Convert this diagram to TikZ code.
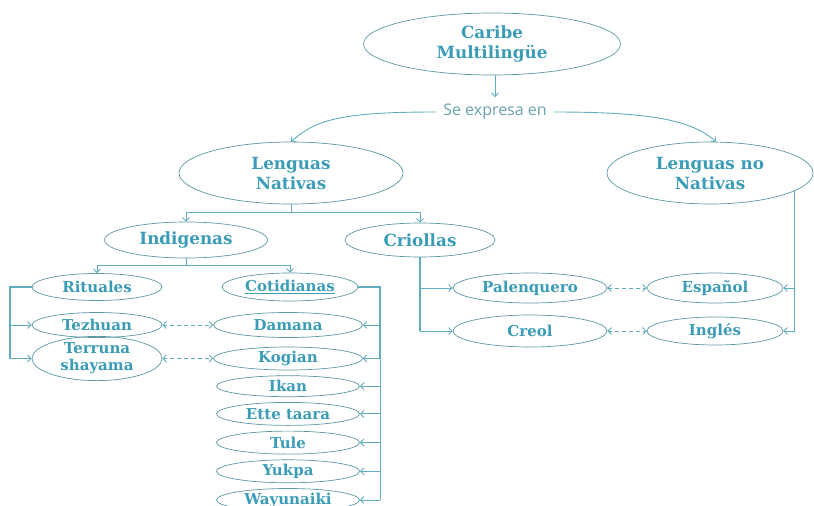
\documentclass[tikz,border=0pt]{standalone}
\usepackage{fontspec}
\setmainfont{DejaVu Serif}
\newfontfamily\linkfont{Open Sans}
\usetikzlibrary{positioning, arrows.meta, shapes.geometric}
\definecolor{textteal}{HTML}{3A9CB6}
\definecolor{lineteal}{HTML}{5FADBE}
\definecolor{ovalteal}{HTML}{5A97A5}
\definecolor{wordteal}{HTML}{6AA3AF}
\newcommand{\ovalfont}{\bfseries\fontsize{15}{17}\selectfont}
\newcommand{\bigovalfont}{\bfseries\fontsize{16.8}{20}\selectfont}

\begin{document}
\begin{tikzpicture}[align=center, x=1pt, y=-1pt, node distance=5pt]
       \ovalfont
       \tikzstyle{oval} = [
            ellipse,
            draw=ovalteal,
            line width=0.7pt,
            text=textteal,
            inner sep=0pt,
            minimum width=143pt,
            minimum height=23pt,
            font=\ovalfont
       ]
       \tikzstyle{bigoval} = [
            oval,
            minimum width=224pt,
            minimum height=62pt,
            font=\bigovalfont
       ]
       \tikzstyle{midoval} = [
            oval,
            minimum width=160pt,
            minimum height=36pt,
            font=\bigovalfont
       ]
       \tikzstyle{link} = [draw=lineteal, line width=0.9pt]
       \tikzstyle{bracket} = [draw=lineteal, line width=1.5pt]
       \tikzstyle{arrow} = [link, -{Straight Barb[length=3.5pt, width=7pt]}]
       \tikzstyle{dasharrow} = [link, dash pattern=on 4pt off 3pt, {Straight Barb[length=3.5pt, width=7pt]}-{Straight Barb[length=3.5pt, width=7pt]}]
       \useasboundingbox (0,0) rectangle (814,506);

       \node (caribe) at (492,44) [bigoval, minimum width=257pt] {Caribe\\Multilingüe};
       \node (expresa) at (495,112) [inner sep=7pt, text=wordteal, font=\linkfont\mdseries\fontsize{16}{18}\selectfont] {Se expresa en};
       \node (nativas) at (291,173) [bigoval] {Lenguas\\Nativas};
       \node (nonativas) at (710,173) [bigoval, minimum width=206pt] {Lenguas no\\Nativas};

       \node (indigenas) at (186,240) [midoval, minimum width=163pt] {Indigenas};
       \node (criollas) at (420,240) [midoval, minimum width=150pt, minimum height=34pt] {Criollas};

       \node (rituales) at (97,287) [oval, minimum width=130pt, minimum height=27pt] {Rituales};
       \node (tezhuan) at (97,325) [oval, minimum width=130pt, minimum height=25pt] {Tezhuan};
       \node (terruna) at (97,358.5) [oval, minimum width=130pt, minimum height=38pt] {Terruna\\shayama};

       \node (cotidianas) at (290,287) [oval, minimum width=136pt, minimum height=28pt] {\underline{Cotidianas}};
       \node (damana) at (288,325) [oval, minimum width=149pt, minimum height=25pt] {Damana};
       \node (kogian) at (288,358.5) [oval, minimum width=149pt] {Kogian};
       \node (ikan) [oval, below=5pt of kogian, minimum height=21pt] {Ikan};
       \node (ette) [oval, below=of ikan] {Ette taara};
       \node (tule) [oval, below=of ette] {Tule};
       \node (yukpa) [oval, below=of tule] {Yukpa};
       \node (wayunaiki) [oval, below=of yukpa] {Wayunaiki};

       \node (palenquero) at (530,288) [oval, minimum width=154pt, minimum height=30pt] {Palenquero};
       \node (espanol) at (715,288) [oval, minimum width=136pt, minimum height=30pt] {Español};
       \node (creol) at (530,331) [oval, minimum width=154pt, minimum height=32pt] {Creol};
       \node (ingles) at (715,331) [oval, minimum width=136pt, minimum height=28pt] {Inglés};

       \coordinate (nsplit) at (291,212);
       \coordinate (isplit) at (186,265);
       \coordinate (ritx) at (10,0);
       \coordinate (cotx) at (380,0);

       % top of the map
       \draw[arrow] (caribe.south -| expresa) -- (expresa.north);
       \draw[arrow] (expresa.west) .. controls +(-95,0) and +(25,-22) .. (nativas.north);
       \draw[arrow] (expresa.east) .. controls +(95,0) and +(-25,-22) .. ([xshift=6pt]nonativas.north);

       % native languages
       \draw[link] (nativas.south) -- (nsplit);
       \draw[arrow] (nsplit) -| (indigenas.north);
       \draw[arrow] (nsplit) -| (criollas.north);
       \draw[link] (indigenas.south) -- (isplit);
       \draw[arrow] (isplit) -| (rituales.north);
       \draw[arrow] (isplit) -| (cotidianas.north);

       \draw[bracket] (rituales.west) -- (rituales.west -| ritx) -- (terruna.west -| ritx);
       \draw[arrow] (tezhuan.west -| ritx) -- (tezhuan.west);
       \draw[arrow] (terruna.west -| ritx) -- (terruna.west);

       \draw[bracket] (cotidianas.east) -- (cotidianas.east -| cotx) -- (kogian.east -| cotx);
       \draw[link] (kogian.east -| cotx) -- (wayunaiki.east -| cotx);
       \draw[arrow] (damana.east -| cotx) -- (damana.east);
       \draw[arrow] (kogian.east -| cotx) -- (kogian.east);
       \draw[arrow] (ikan.east -| cotx) -- (ikan.east);
       \draw[arrow] (ette.east -| cotx) -- (ette.east);
       \draw[arrow] (tule.east -| cotx) -- (tule.east);
       \draw[arrow] (yukpa.east -| cotx) -- (yukpa.east);
       \draw[arrow] (wayunaiki.east -| cotx) -- (wayunaiki.east);

       \draw[dasharrow] (tezhuan) -- (damana);
       \draw[dasharrow] (terruna) -- (kogian);

       % creoles and foreign languages
       \draw[bracket] (criollas.south) -- (criollas.south |- creol.west);
       \draw[arrow] (criollas.south |- palenquero.west) -- (palenquero.west);
       \draw[arrow] (criollas.south |- creol.west) -- (creol.west);

       \draw[link] (nonativas.-12) -- (nonativas.-12 |- ingles.east);
       \draw[arrow] (nonativas.-12 |- espanol.east) -- (espanol.east);
       \draw[arrow] (nonativas.-12 |- ingles.east) -- (ingles.east);

       \draw[dasharrow] (palenquero) -- (espanol);
       \draw[dasharrow] (creol) -- (ingles);
\end{tikzpicture}
\end{document}
